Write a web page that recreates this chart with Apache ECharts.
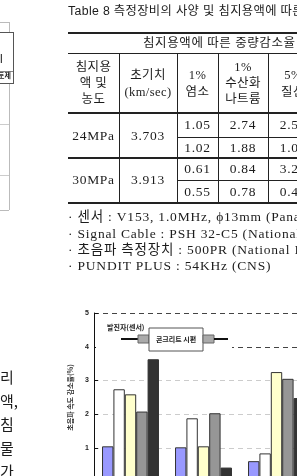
<!DOCTYPE html>
<html>
<head>
<meta charset="utf-8">
<script src="https://cdn.jsdelivr.net/npm/echarts/dist/echarts.min.js"></script>
<style>
html,body{margin:0;padding:0;background:#fff;}
body{width:297px;height:476px;overflow:hidden;position:relative;}
#chart{position:absolute;left:0;top:0;width:297px;height:476px;}
#page{position:absolute;left:0;top:0;width:297px;height:476px;pointer-events:none;overflow:hidden;}
.t{position:absolute;white-space:nowrap;color:#1c1c1c;}
.ln{position:absolute;background:#222;}
</style>
</head>
<body>
<div id="chart"></div>
<div id="page"></div>
<script>
// ---------- data ----------
const categories = ['24MPa (1)', '24MPa (2)', '30MPa (1)'];
const seriesNames = ['1% 염소', '1% 수산화나트륨', '5% 질산', '침지용액 4', '침지용액 5'];
const blueVals   = [1.05, 1.02, 0.61];
const whiteVals  = [2.74, 1.88, 0.84];
const yellowVals = [2.59, 1.05, 3.25];
const grayVals   = [2.08, 2.03, 3.05];
const blackVals  = [3.63, 0.42, 2.48];
const yMin = 0, yMax = 5, yStep = 1;
const yTitle = '초음파 속도 감소율(%)';

const caption = 'Table 8 측정장비의 사양 및 침지용액에 따른 초음파속도 감소율';
const tableTitle = '침지용액에 따른 중량감소율';
const colHeads = [['침지용', '액 및', '농도'], ['초기치', '(km/sec)'], ['1%', '염소'], ['1%', '수산화', '나트륨'], ['5%', '질산']];
const strengths = ['24MPa', '30MPa'];
const initials = ['3.703', '3.913'];
const tableVals = [['1.05', '2.74', '2.59'], ['1.02', '1.88', '1.05'], ['0.61', '0.84', '3.25'], ['0.55', '0.78', '0.45']];
const notes = ['· 센서 : V153, 1.0MHz, ϕ13mm (Panametrics)', '· Signal Cable : PSH 32-C5 (National Instruments)', '· 초음파 측정장치 : 500PR (National Instruments)', '· PUNDIT PLUS : 54KHz (CNS)'];
const sideText = ['리', '액,', '침', '물', '가'];
const insetSensor = '발진자(센서)';
const insetSpecimen = '콘크리트 시편';

// ---------- page (table + text) ----------
const page = document.getElementById('page');
const SERIF = "'Liberation Serif','DejaVu Serif','Noto Sans CJK KR',serif";
const SANS = "'Liberation Sans','Noto Sans CJK KR',sans-serif";
function txt(x, y, s, opt) {
  opt = opt || {};
  const d = document.createElement('div');
  d.className = 't';
  const fs = opt.fs || 13.5, lh = fs * 1.3;
  d.style.fontFamily = opt.ff || SERIF;
  d.style.fontSize = fs + 'px';
  d.style.lineHeight = lh + 'px';
  d.style.top = (y - lh / 2) + 'px';
  d.style.left = x + 'px';
  if (opt.ls !== undefined) d.style.letterSpacing = opt.ls + 'px';
  if (opt.center) d.style.transform = 'translateX(-50%)';
  if (opt.color) d.style.color = opt.color;
  if (opt.bold) d.style.fontWeight = 'bold';
  d.textContent = s;
  page.appendChild(d);
}
function hl(x1, x2, y, w, c) {
  const d = document.createElement('div'); d.className = 'ln';
  d.style.left = x1 + 'px'; d.style.width = (x2 - x1) + 'px';
  d.style.top = (y - w / 2) + 'px'; d.style.height = w + 'px';
  if (c) d.style.background = c;
  page.appendChild(d);
}
function vl(x, y1, y2, w, c) {
  const d = document.createElement('div'); d.className = 'ln';
  d.style.left = (x - w / 2) + 'px'; d.style.width = w + 'px';
  d.style.top = y1 + 'px'; d.style.height = (y2 - y1) + 'px';
  if (c) d.style.background = c;
  page.appendChild(d);
}

// caption
txt(68, 12, caption, {ff: SANS, fs: 12.3, ls: 0.35});
// table lines
const colX = [68, 119, 177, 218, 268, 318];
hl(68, 300, 32.5, 2);
hl(68, 300, 53.5, 1.2);
hl(68, 300, 113, 1.5);
hl(177, 300, 137, 1);
hl(68, 300, 158, 1.6);
hl(177, 300, 180, 1);
hl(68, 300, 203, 1.6);
for (let i = 1; i < 5; i++) vl(colX[i], 53.5, 203, 1);
// table header
txt(143, 43, tableTitle, {fs: 12.5, ls: 0.6, ff: SERIF});
colHeads.forEach((lines, i) => {
  const cx = (colX[i] + colX[i + 1]) / 2;
  const ys = lines.length === 3 ? [67, 83, 99] : [75, 92];
  lines.forEach((s, j) => txt(cx, ys[j], s, {center: true, fs: 12.5, ls: 0.4}));
});
// body
const rowY = [125, 147.5, 169, 191.5];
strengths.forEach((s, i) => {
  const cy = (rowY[2 * i] + rowY[2 * i + 1]) / 2;
  txt((colX[0] + colX[1]) / 2, cy, s, {center: true, ls: 0.7});
  txt((colX[1] + colX[2]) / 2, cy, initials[i], {center: true, ls: 0.7});
});
tableVals.forEach((row, r) => {
  row.forEach((v, c) => txt((colX[c + 2] + colX[c + 3]) / 2, rowY[r], v, {center: true, ls: 0.7}));
});
// notes
const noteY = [217, 233.5, 249.5, 266];
notes.forEach((s, i) => txt(68, noteY[i], s, {fs: 13.5, ls: 0.8}));
// left page fragment
hl(0, 9, 22, 1, '#bbb');
vl(9, 22, 210, 1, '#bbb');
hl(0, 9, 124, 1, '#ccc');
hl(0, 9, 175, 1, '#ccc');
hl(0, 9, 210, 1, '#bbb');
(function () {
  const b = document.createElement('div');
  b.style.cssText = 'position:absolute;left:-2px;top:32px;width:14px;height:50px;border:1px solid #555;background:#fff;';
  page.appendChild(b);
})();
txt(0, 60, 'l', {fs: 12, ff: SANS});
hl(0, 13, 71, 1, '#888');
txt(-2, 76, '토제', {fs: 7, ff: SANS, bold: true});
sideText.forEach((s, i) => txt(0, 377 + 23.5 * i, s, {fs: 15, ff: "'Noto Sans CJK KR',sans-serif"}));

// ---------- chart ----------
const chart = echarts.init(document.getElementById('chart'), null, {renderer: 'canvas'});
const colors = ['#9999ff', '#ffffff', '#ffffcc', '#969696', '#333333'];
const valueSets = [blueVals, whiteVals, yellowVals, grayVals, blackVals];
const KFONT = "'Noto Sans CJK KR',sans-serif";
chart.setOption({
  animation: false,
  backgroundColor: 'transparent',
  grid: {left: 94, top: 313, width: 219, height: 168.75, containLabel: false, outerBoundsMode: 'none'},
  xAxis: {
    type: 'category', data: categories,
    axisLine: {lineStyle: {color: '#111'}}, axisTick: {show: false},
    axisLabel: {fontSize: 8, color: '#222'}
  },
  yAxis: {
    type: 'value', min: yMin, max: yMax, interval: yStep,
    name: yTitle, nameLocation: 'middle', nameRotate: 90, nameGap: 9,
    nameTextStyle: {fontSize: 7, fontWeight: 'bold', color: '#333', fontFamily: KFONT},
    axisLine: {show: true, lineStyle: {color: '#111', width: 1}},
    axisTick: {show: true, inside: true, length: 4, lineStyle: {color: '#111'}},
    axisLabel: {fontSize: 7, fontWeight: 'bold', color: '#222', margin: 5, fontFamily: 'Arial, Liberation Sans'},
    splitLine: {show: true, lineStyle: {type: [5, 4], width: 1, color: ['#ccc', '#ccc', '#ccc', '#ccc', '#444', '#444']}}
  },
  series: valueSets.map((vals, i) => ({
    type: 'bar', name: seriesNames[i], data: vals,
    barGap: '0%', barCategoryGap: '22%',
    itemStyle: {color: colors[i], borderColor: '#333', borderWidth: 1}
  })),
  graphic: [
    {type: 'rect', z: 100, shape: {x: 96, y: 318, width: 136, height: 38}, style: {fill: '#fff'}},
    {type: 'text', z: 101, x: 107, y: 327, style: {text: insetSensor, font: 'bold 7px ' + KFONT, fill: '#222', align: 'left', verticalAlign: 'middle'}},
    {type: 'line', z: 101, shape: {x1: 121, y1: 339, x2: 138, y2: 339}, style: {stroke: '#111', lineWidth: 2}},
    {type: 'rect', z: 101, shape: {x: 138, y: 335, width: 11, height: 8}, style: {fill: '#aaa', stroke: '#666', lineWidth: 1}},
    {type: 'rect', z: 101, shape: {x: 149, y: 328, width: 54, height: 23}, style: {fill: '#fff', stroke: '#555', lineWidth: 1}},
    {type: 'text', z: 102, x: 176, y: 339.5, style: {text: insetSpecimen, font: 'bold 7px ' + KFONT, fill: '#222', align: 'center', verticalAlign: 'middle'}},
    {type: 'rect', z: 101, shape: {x: 203, y: 335, width: 11, height: 8}, style: {fill: '#aaa', stroke: '#666', lineWidth: 1}},
    {type: 'line', z: 101, shape: {x1: 214, y1: 339, x2: 228, y2: 339}, style: {stroke: '#111', lineWidth: 2}}
  ]
});
</script>
</body>
</html>
